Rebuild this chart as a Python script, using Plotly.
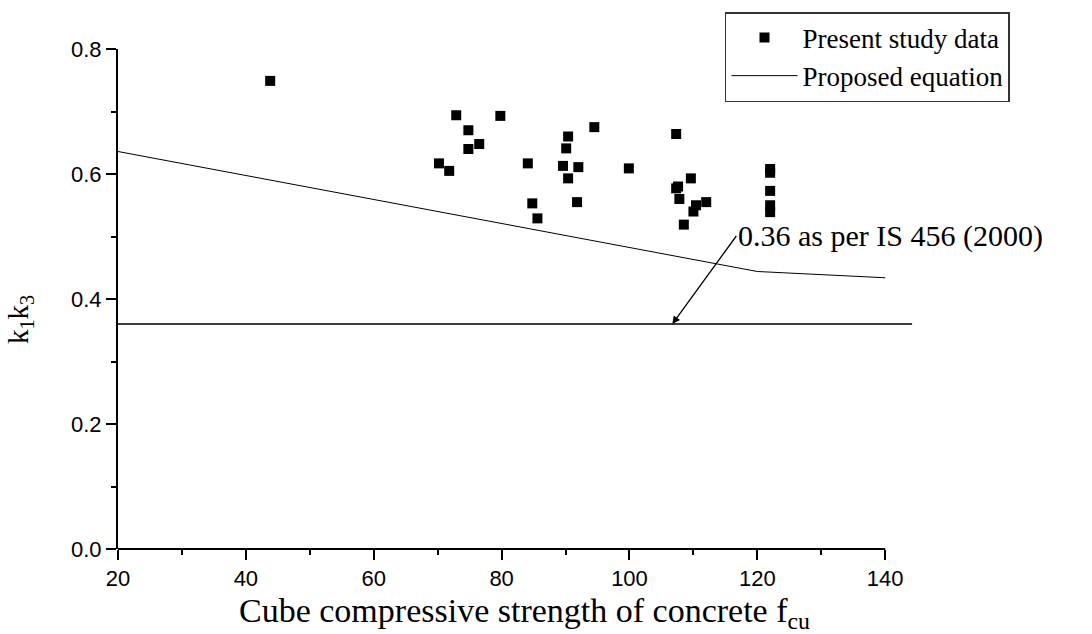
import plotly.graph_objects as go

# Measured k1k3 values against cube strength fcu (MPa)
study_fcu = [43.8, 70.2, 71.8, 72.9, 74.8, 74.8, 76.5, 79.8, 84.1, 84.8, 85.6,
             89.6, 90.1, 90.4, 90.4, 91.8, 92.0, 94.5, 99.9, 107.3, 107.3,
             107.6, 107.8, 108.5, 109.6, 110.0, 110.4, 112.0,
             122.0, 122.0, 122.0, 122.0, 122.0]
study_k1k3 = [0.749, 0.617, 0.605, 0.694, 0.670, 0.640, 0.648, 0.693, 0.617,
              0.553, 0.529, 0.613, 0.641, 0.660, 0.593, 0.555, 0.611, 0.675,
              0.609, 0.664, 0.577, 0.580, 0.560, 0.519, 0.593, 0.540, 0.550,
              0.555, 0.608, 0.602, 0.573, 0.550, 0.539]

# Proposed equation
eq_fcu = [20, 120, 140]
eq_k1k3 = [0.636, 0.444, 0.434]

# IS 456 (2000) constant value
is_fcu = [20, 144.2]
is_value = 0.36

x_range = [20, 144.5]
x_axis_end = 140

SERIF = "Liberation Serif, Times New Roman, serif"
SANS = "Liberation Sans, Arial, sans-serif"

fig = go.Figure()

fig.add_trace(go.Scatter(
    x=study_fcu, y=study_k1k3, mode="markers", name="Present study data",
    marker=dict(symbol="square", size=10, color="black", line=dict(width=0)),
))
fig.add_trace(go.Scatter(
    x=eq_fcu, y=eq_k1k3, mode="lines", name="Proposed equation",
    line=dict(color="black", width=1),
))
fig.add_trace(go.Scatter(
    x=is_fcu, y=[is_value] * len(is_fcu), mode="lines", showlegend=False,
    line=dict(color="black", width=1.5),
))

# bottom axis line stops at the last labelled tick
fig.add_shape(type="line", xref="x", yref="paper", x0=x_range[0], x1=x_axis_end,
              y0=0, y1=0, line=dict(color="black", width=2))

fig.add_annotation(
    x=106.7, y=is_value, xref="x", yref="y",
    text="0.36 as per IS 456 (2000)", showarrow=True,
    ax=64, ay=-88, xanchor="left", yanchor="middle",
    arrowhead=2, arrowsize=1.2, arrowwidth=1.3, arrowcolor="black",
    font=dict(family=SERIF, size=30, color="black"),
)

fig.add_annotation(
    x=0.511, y=-0.174, xref="paper", yref="paper", showarrow=False,
    text="Cube compressive strength of concrete f<sub>cu</sub>",
    xanchor="center", yanchor="bottom",
    font=dict(family=SERIF, size=34, color="black"),
)
fig.add_annotation(
    x=-0.123, y=0.458, xref="paper", yref="paper", showarrow=False,
    text="k<sub>1</sub>k<sub>3</sub>", textangle=-90,
    xanchor="center", yanchor="middle",
    font=dict(family=SERIF, size=29, color="black"),
)

fig.update_layout(
    width=1092, height=634,
    margin=dict(l=118, r=178, t=49, b=85),
    paper_bgcolor="white", plot_bgcolor="white",
    showlegend=True,
    legend=dict(
        x=1.1206, y=1.074, xanchor="right", yanchor="top",
        bordercolor="#333333", borderwidth=1.5, bgcolor="white",
        font=dict(family=SERIF, size=27, color="black"),
        itemwidth=66, tracegroupgap=0,
    ),
    xaxis=dict(
        range=x_range, showgrid=False, zeroline=False, showline=False,
        tickmode="linear", tick0=20, dtick=20,
        ticks="outside", ticklen=10, tickwidth=2, tickcolor="black",
        tickfont=dict(family=SANS, size=22, color="black"),
        minor=dict(ticks="outside", dtick=10, tick0=20, ticklen=5,
                   tickwidth=2, tickcolor="black", showgrid=False),
    ),
    yaxis=dict(
        range=[0, 0.8], showgrid=False, zeroline=False,
        showline=True, linecolor="black", linewidth=2,
        tickmode="linear", tick0=0, dtick=0.2, tickformat=".1f",
        ticks="outside", ticklen=10, tickwidth=2, tickcolor="black",
        tickfont=dict(family=SANS, size=22, color="black"),
        minor=dict(ticks="outside", dtick=0.1, ticklen=5,
                   tickwidth=2, tickcolor="black", showgrid=False),
    ),
)

fig.write_html("out.html")
